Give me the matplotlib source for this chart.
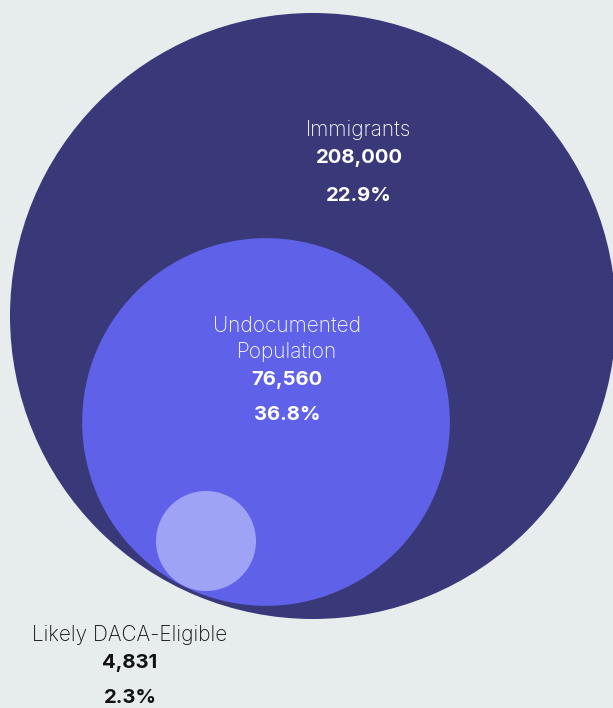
import matplotlib
matplotlib.use("Agg")
import matplotlib.pyplot as plt
from matplotlib.patches import Circle
import numpy as np

# ---- data ----
groups = ["Immigrants", "Undocumented\nPopulation", "Likely DACA-Eligible"]
counts = [208000, 76560, 4831]
count_labels = ["208,000", "76,560", "4,831"]
pct_labels = ["22.9%", "36.8%", "2.3%"]

# ---- style / layout ----
W, H = 613, 708
DPI = 100
bg = "#e7eded"
fills = ["#39397a", "#5f62e8", "#9ea3f5"]
centers = [(313, 316), (266, 422), (206, 541)]
R_MAX = 303
R_MIN = 50
label_pos = [(359, 130), (287, 339), (130, 635)]
label_colors = ["white", "white", "#111111"]
count_gap = [28, 41, 28]
pct_gap = [66, 76, 63]

fig = plt.figure(figsize=(W / DPI, H / DPI), dpi=DPI, facecolor=bg)
ax = fig.add_axes([0, 0, 1, 1])
ax.set_xlim(0, W)
ax.set_ylim(H, 0)
ax.set_aspect("equal")
ax.axis("off")
ax.set_facecolor(bg)

vmax = max(counts)
for v, c, col in zip(counts, centers, fills):
    r = max(R_MAX * np.sqrt(v / vmax), R_MIN)
    ax.add_patch(Circle(c, r, facecolor=col, edgecolor="none", antialiased=True))

font = ["Inter", "DejaVu Sans"]
FS_L = 15.0
FS_N = 14.6
for g, cl, pl, (x, y), tc, cg, pg in zip(groups, count_labels, pct_labels,
                                          label_pos, label_colors, count_gap, pct_gap):
    ax.text(x, y, g, ha="center", va="center", color=tc, fontsize=FS_L,
            family=font, fontweight="light", linespacing=1.38)
    ax.text(x, y + cg, cl, ha="center", va="center",
            color=tc, fontsize=FS_N, family=font, fontweight="bold")
    ax.text(x, y + pg, pl, ha="center", va="center", color=tc, fontsize=FS_N,
            family=font, fontweight="bold")

fig.savefig("out.png", dpi=DPI, facecolor=bg)
